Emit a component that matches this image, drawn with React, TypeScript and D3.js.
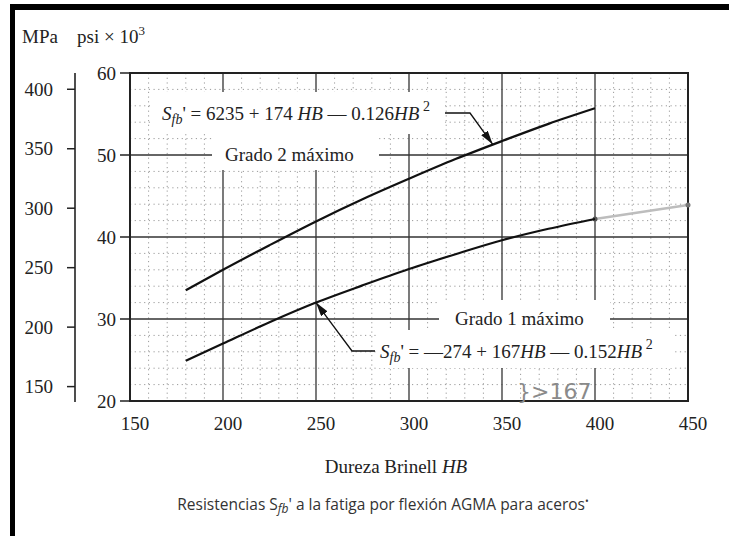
import React from "react";
import * as d3 from "d3";

// Data (stress in psi x 10^3 vs Brinell hardness HB)
const hardness = [180, 200, 225, 250, 275, 300, 325, 350, 375, 400];
const grade2 = [33.5, 36.0, 39.0, 41.9, 44.6, 47.1, 49.5, 51.7, 53.8, 55.7];
const grade1 = [24.9, 27.0, 29.6, 32.0, 34.1, 36.1, 37.9, 39.6, 41.0, 42.2];
// hand-drawn pencil extension of the grade 1 curve
const extHardness = [400, 450];
const extValues = [42.2, 43.9];

const xTicks = [150, 200, 250, 300, 350, 400, 450];
const psiTicks = [20, 30, 40, 50, 60];
const mpaTicks = [150, 200, 250, 300, 350, 400];
const psiMajorGrid = [30, 40, 50];
const hbMajorGrid = [200, 250, 300, 350, 400];

const MPA_PER_KSI = 6.894757;

const SERIF = "'Liberation Serif', 'Times New Roman', serif";
const SANS = "'Open Sans', 'Noto Sans', sans-serif";

export default function App() {
  const W = 729;
  const H = 536;
  const left = 130, right = 688, top = 73, bottom = 401;

  const x = d3.scaleLinear().domain([150, 450]).range([left, right]);
  const y = d3.scaleLinear().domain([20, 60]).range([bottom, top]);
  const yMpa = d3
    .scaleLinear()
    .domain([20 * MPA_PER_KSI, 60 * MPA_PER_KSI])
    .range([bottom, top]);

  const line = d3
    .line<[number, number]>()
    .x((d) => x(d[0]))
    .y((d) => y(d[1]))
    .curve(d3.curveMonotoneX);

  const upper = line(hardness.map((h, i) => [h, grade2[i]]));
  const lower = line(hardness.map((h, i) => [h, grade1[i]]));
  const ext = line(extHardness.map((h, i) => [h, extValues[i]]));

  const minorX = d3.range(160, 450, 10).filter((v) => v % 50 !== 0);
  const minorY = d3.range(22, 60, 2).filter((v) => v % 10 !== 0);

  const gridColor = "#333";
  const dotColor = "#9a9a9a";

  // arrow tips on the curves
  const upTip = [x(345), y(51.3)];
  const loTip = [x(250), y(32.0)];

  const fs = 19;

  return (
    <svg
      width={W}
      height={H}
      viewBox={`0 0 ${W} ${H}`}
      style={{ position: "absolute", left: 0, top: 0, background: "#fff" }}
    >
      <defs>
        <marker
          id="arr"
          viewBox="0 0 14 8"
          refX="14"
          refY="4"
          markerWidth="14"
          markerHeight="8"
          markerUnits="userSpaceOnUse"
          orient="auto"
        >
          <path d="M0,0 L14,4 L0,8 Z" fill="#111" />
        </marker>
      </defs>
      <rect x={0} y={0} width={W} height={H} fill="#fff" />
      {/* page border */}
      <rect x={10} y={4} width={W - 10} height={6} fill="#000" />
      <rect x={10} y={4} width={5} height={H - 4} fill="#000" />

      {/* minor dotted grid */}
      <g stroke={dotColor} strokeWidth={1} strokeDasharray="1.2,3.5">
        {minorX.map((v) => (
          <line key={"mx" + v} x1={x(v)} x2={x(v)} y1={top} y2={bottom} />
        ))}
        {minorY.map((v) => (
          <line key={"my" + v} x1={left} x2={right} y1={y(v)} y2={y(v)} />
        ))}
      </g>
      {/* major grid */}
      <g stroke={gridColor} strokeWidth={1.3}>
        {hbMajorGrid.map((v) => (
          <line key={"gx" + v} x1={x(v)} x2={x(v)} y1={top} y2={bottom} />
        ))}
        {psiMajorGrid.map((v) => (
          <line key={"gy" + v} x1={left} x2={right} y1={y(v)} y2={y(v)} />
        ))}
      </g>

      {/* white label backgrounds that interrupt the grid */}
      <g fill="#fff">
        <rect x={152} y={92} width={293} height={42} />
        <rect x={212} y={134} width={167} height={36} />
        <rect x={439} y={300} width={171} height={30} />
        <rect x={376} y={330} width={296} height={38} />
      </g>

      {/* plot frame */}
      <rect
        x={left}
        y={top}
        width={right - left}
        height={bottom - top}
        fill="none"
        stroke="#222"
        strokeWidth={2}
      />

      {/* psi axis ticks and labels */}
      <g>
        {psiTicks.map((v) => (
          <g key={"pt" + v}>
            <line x1={left - 10} x2={left} y1={y(v)} y2={y(v)} stroke="#222" strokeWidth={1.5} />
            <text
              x={116}
              y={y(v)}
              dy="0.35em"
              textAnchor="end"
              fontFamily={SERIF}
              fontSize={fs}
              fill="#222"
            >
              {v}
            </text>
          </g>
        ))}
      </g>

      {/* MPa axis */}
      <line x1={75} x2={75} y1={top} y2={bottom + 1} stroke="#222" strokeWidth={1.6} />
      {mpaTicks.map((v) => (
        <g key={"mt" + v}>
          <line x1={67} x2={75} y1={yMpa(v)} y2={yMpa(v)} stroke="#222" strokeWidth={1.5} />
          <text
            x={53}
            y={yMpa(v)}
            dy="0.35em"
            textAnchor="end"
            fontFamily={SERIF}
            fontSize={fs}
            fill="#222"
          >
            {v}
          </text>
        </g>
      ))}

      {/* x tick labels */}
      {xTicks.map((v) => (
        <text
          key={"xt" + v}
          x={x(v) + 5}
          y={430}
          textAnchor="middle"
          fontFamily={SERIF}
          fontSize={fs}
          fill="#222"
        >
          {v}
        </text>
      ))}

      {/* unit header */}
      <text x={22} y={43} fontFamily={SERIF} fontSize={fs} fill="#222">
        MPa
      </text>
      <text x={77} y={43} fontFamily={SERIF} fontSize={fs} fill="#222">
        psi × 10
        <tspan dy={-8} fontSize={13}>
          3
        </tspan>
      </text>

      {/* curves */}
      <path d={ext || ""} fill="none" stroke="#bdbdbd" strokeWidth={2.4} />
      <circle cx={x(450)} cy={y(43.9)} r={2.5} fill="#777" />
      <circle cx={x(400)} cy={y(42.2)} r={2.5} fill="#555" />
      <path d={upper || ""} fill="none" stroke="#111" strokeWidth={2.2} />
      <path d={lower || ""} fill="none" stroke="#111" strokeWidth={2.2} />

      {/* upper formula and leader */}
      <text x={162} y={120} fontFamily={SERIF} fontSize={fs} fill="#222">
        <tspan fontStyle="italic">S</tspan>
        <tspan fontStyle="italic" fontSize={14} dy={4}>
          fb
        </tspan>
        <tspan dy={-4}>' = 6235 + 174 </tspan>
        <tspan fontStyle="italic">HB</tspan>
        <tspan> — 0.126</tspan>
        <tspan fontStyle="italic">HB</tspan>
        <tspan fontSize={14} dy={-9}>
          {" 2"}
        </tspan>
      </text>
      <polyline
        points={`445,113 470,113 ${upTip[0]},${upTip[1]}`}
        fill="none"
        stroke="#111"
        strokeWidth={1.3}
        markerEnd="url(#arr)"
      />

      {/* grade labels */}
      <text x={225} y={161} fontFamily={SERIF} fontSize={fs} fill="#222">
        Grado 2 máximo
      </text>
      <text x={455} y={325} fontFamily={SERIF} fontSize={fs} fill="#222">
        Grado 1 máximo
      </text>

      {/* lower formula and leader */}
      <text x={380} y={358} fontFamily={SERIF} fontSize={fs} fill="#222">
        <tspan fontStyle="italic">S</tspan>
        <tspan fontStyle="italic" fontSize={14} dy={4}>
          fb
        </tspan>
        <tspan dy={-4}>' = —274 + 167</tspan>
        <tspan fontStyle="italic">HB</tspan>
        <tspan> — 0.152</tspan>
        <tspan fontStyle="italic">HB</tspan>
        <tspan fontSize={14} dy={-9}>
          {" 2"}
        </tspan>
      </text>
      <polyline
        points={`375,351 352,351 ${loTip[0]},${loTip[1]}`}
        fill="none"
        stroke="#111"
        strokeWidth={1.3}
        markerEnd="url(#arr)"
      />

      {/* pencil note */}
      <text
        x={517}
        y={399}
        fontFamily="'DejaVu Sans', sans-serif"
        fontSize={22}
        fill="#8a8a8a"
      >
        {"}>167"}
      </text>

      {/* axis title and caption */}
      <text
        x={396}
        y={473}
        textAnchor="middle"
        fontFamily={SERIF}
        fontSize={fs}
        fill="#222"
      >
        Dureza Brinell <tspan fontStyle="italic">HB</tspan>
      </text>
      <text
        x={383}
        y={510}
        textAnchor="middle"
        fontFamily={SANS}
        fontSize={15.5}
        fill="#333"
      >
        Resistencias S
        <tspan fontStyle="italic" fontSize={12} dy={3}>
          fb
        </tspan>
        <tspan dy={-3}>' a la fatiga por flexión AGMA para aceros</tspan>
        <tspan fontSize={10} dy={-5}>
          •
        </tspan>
      </text>
    </svg>
  );
}
